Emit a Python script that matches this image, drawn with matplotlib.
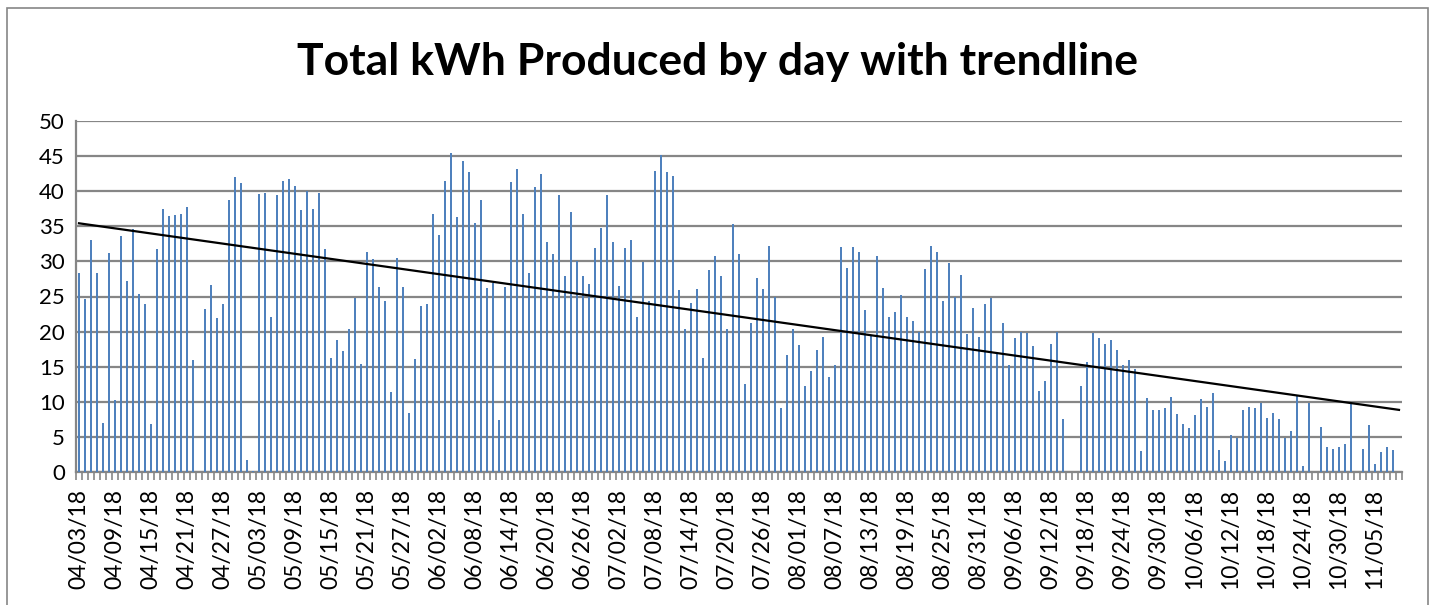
import numpy as np
import pandas as pd
import matplotlib
matplotlib.use("Agg")
import matplotlib.pyplot as plt
from matplotlib.patches import Rectangle

plt.rcParams['font.family'] = ['Lato', 'DejaVu Sans']

start_date = '2018-04-03'
n_days = 221

# daily kWh (None = no value that day)
kwh = [
    28.3, 24.7, 33.0, 28.3, 7.0, 31.2, 10.2, 33.6, 27.2, 34.6,
    25.4, 24.0, 6.9, 31.8, 37.4, 36.5, 36.6, 36.7, 37.7, 15.9,
    0.0, 23.2, 26.6, 21.9, 24.0, 38.7, 42.0, 41.2, 1.7, 0.1,
    39.6, 39.7, 22.1, 39.5, 41.4, 41.7, 40.7, 37.3, 40.0, 37.4,
    39.8, 31.7, 16.2, 18.8, 17.2, 20.4, 24.8, 15.4, 31.3, 30.3,
    26.4, 24.4, 11.4, 30.5, 26.4, 8.4, 16.1, 23.7, 24.0, 36.7,
    33.8, 41.5, 45.5, 36.3, 44.3, 42.7, 35.4, 38.7, 26.2, 26.9,
    7.4, 26.3, 41.3, 43.2, 36.7, 28.3, 40.6, 42.5, 32.8, 31.0,
    39.5, 27.9, 37.0, 30.1, 27.9, 26.8, 31.9, 34.8, 39.5, 32.8,
    26.5, 31.9, 33.1, 22.1, 29.9, 24.3, 42.9, 45.2, 42.8, 42.1,
    25.9, 20.3, 24.1, 26.0, 16.2, 28.8, 30.8, 27.9, 20.4, 35.3,
    31.0, 12.6, 21.2, 27.7, 26.1, 32.2, 25.0, 9.1, 16.7, 20.4,
    18.1, 12.3, 14.4, 17.4, 19.2, 13.5, 15.2, 32.1, 29.1, 32.0,
    31.4, 23.1, 19.4, 30.8, 26.2, 22.1, 22.8, 25.2, 22.1, 21.5,
    20.0, 28.9, 32.2, 31.3, 24.4, 29.8, 24.9, 28.1, 19.6, 23.4,
    19.3, 24.0, 24.8, 16.9, 21.2, 15.2, 19.1, 19.9, 19.8, 17.9,
    11.6, 12.9, 18.3, 19.9, 7.5, 0.0, 0.0, 12.3, 15.6, 19.8,
    19.1, 18.3, 18.8, 17.4, 15.2, 15.9, 14.7, 3.0, 10.5, 8.9,
    8.8, 9.1, 10.7, 8.2, 6.9, 6.2, 8.1, 10.4, 9.3, 11.3,
    3.1, 1.5, 5.2, 4.9, 8.9, 9.2, 9.1, 9.8, 7.7, 8.4,
    7.5, 4.9, 5.9, 10.8, 0.9, 9.9, 0.0, 6.4, 3.5, 3.3,
    3.5, 4.0, 9.7, 0.0, 3.3, 6.7, 1.1, 2.8, 3.6, 3.1,
    None,
]

dates = pd.date_range(start_date, periods=n_days)
date_labels = [d.strftime('%m/%d/%y') for d in dates]


def main():
    x = np.arange(n_days)
    y = np.array([np.nan if v is None else v for v in kwh], dtype=float)
    ok = ~np.isnan(y)

    fig = plt.figure(figsize=(14.35, 6.05), dpi=100)
    ax = fig.add_axes([76 / 1435, 1 - 472 / 605, (1402 - 76) / 1435, (472 - 121) / 605])

    ax.bar(x[ok], y[ok], width=0.45, color='#4F81BD', zorder=3)

    # linear trendline
    k, b = np.polyfit(x[ok] + 1, y[ok], 1)
    ax.plot(x, k * (x + 1) + b, color='black', lw=1.6, zorder=4)

    ax.set_xlim(-0.5, n_days - 0.5)
    ax.set_ylim(0, 50)
    ax.set_yticks(np.arange(0, 51, 5))
    ax.grid(axis='y', color='#868686', lw=1.6, zorder=0)

    ax.set_xticks(x[::6])
    ax.set_xticklabels(date_labels[::6], rotation=90, fontsize=16.5)
    ax.set_xticks(np.arange(-0.5, n_days, 1), minor=True)
    ax.tick_params(axis='x', which='major', length=0, pad=12)
    ax.tick_params(axis='x', which='minor', length=6, width=1.2, color='#868686')
    ax.tick_params(axis='y', length=0, labelsize=16, pad=8)

    for side in ['top', 'right']:
        ax.spines[side].set_visible(False)
    for side in ['left', 'bottom']:
        ax.spines[side].set_color('#868686')
        ax.spines[side].set_linewidth(1.6)

    fig.text(0.5, 1 - 62 / 605, 'Total kWh Produced by day with trendline',
             ha='center', va='center', fontsize=32, fontweight='bold')

    fig.patches.append(Rectangle((7 / 1435, -0.02), (1428 - 7) / 1435, 1 - 8 / 605 + 0.02,
                                 transform=fig.transFigure, fill=False,
                                 edgecolor='#868686', lw=1.2))

    fig.savefig('out.png', dpi=100)


if __name__ == '__main__':
    main()
